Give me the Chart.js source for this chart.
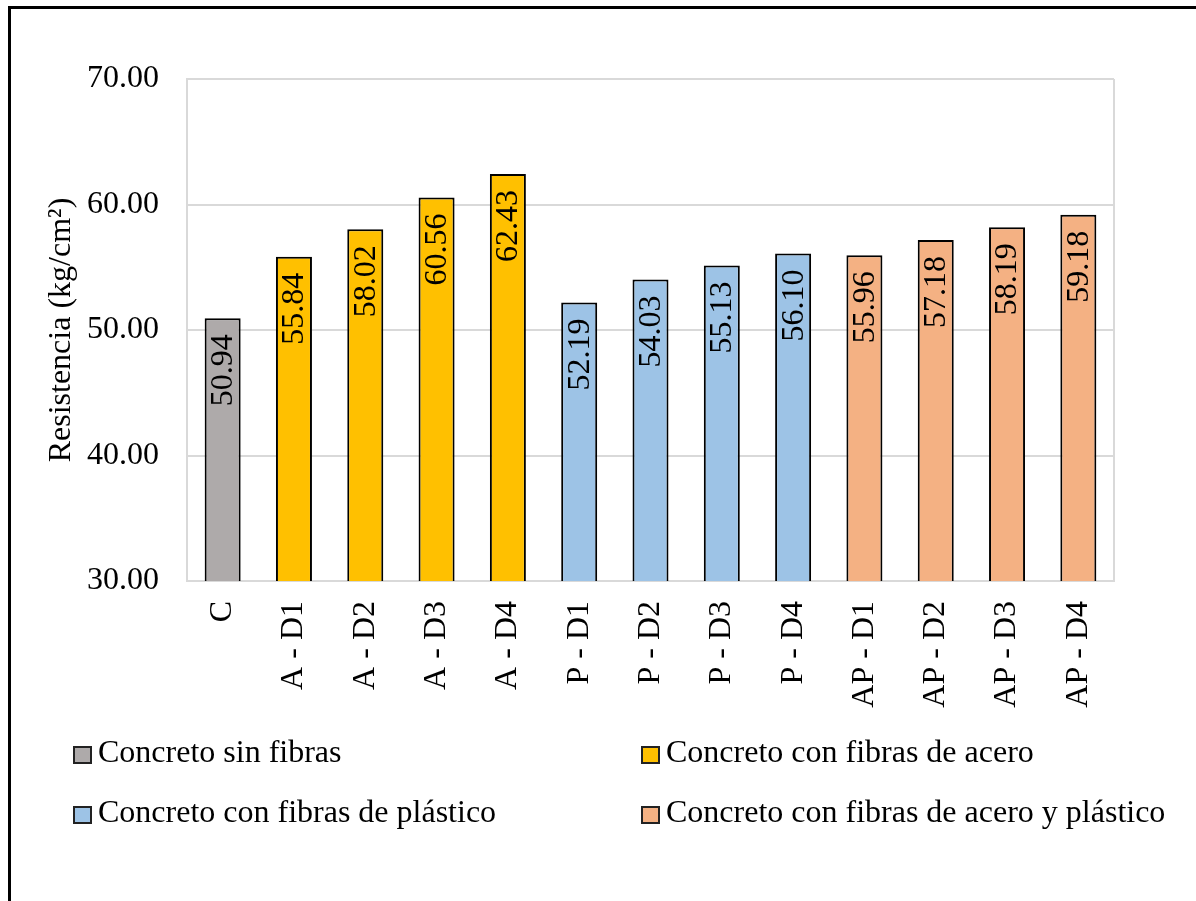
<!DOCTYPE html>
<html>
<head>
<meta charset="utf-8">
<script src="https://cdn.jsdelivr.net/npm/chart.js@4/dist/chart.umd.min.js"></script>
<style>
  html, body { margin: 0; padding: 0; background: #fff; overflow: hidden; }
  #wrap { position: relative; width: 1196px; height: 901px; }
  #frame { position: absolute; left: 8px; top: 6px; width: 3000px; height: 3000px;
           border-top: 3px solid #000; border-left: 3px solid #000; box-sizing: border-box; }
  canvas { position: absolute; left: 0; top: 0; }
</style>
</head>
<body>
<div id="wrap">
  <div id="frame"></div>
  <canvas id="c" width="1196" height="901"></canvas>
</div>
<script>
// ---- data ----
const categories = ['C', 'A - D1', 'A - D2', 'A - D3', 'A - D4', 'P - D1', 'P - D2', 'P - D3', 'P - D4', 'AP - D1', 'AP - D2', 'AP - D3', 'AP - D4'];
const values = [50.94, 55.84, 58.02, 60.56, 62.43, 52.19, 54.03, 55.13, 56.10, 55.96, 57.18, 58.19, 59.18];
const groupOfBar = [0, 1, 1, 1, 1, 2, 2, 2, 2, 3, 3, 3, 3];
const groupNames = ['Concreto sin fibras', 'Concreto con fibras de acero', 'Concreto con fibras de plástico', 'Concreto con fibras de acero y plástico'];
const groupColors = ['#AEAAAA', '#FFC000', '#9DC3E6', '#F4B183'];
const yTicks = [30, 40, 50, 60, 70];
const yTitle = 'Resistencia (kg/cm²)';

const FONT = "'Liberation Serif', 'Times New Roman', serif";

const dataLabels = {
  id: 'dataLabels',
  afterDatasetsDraw(chart) {
    const ctx = chart.ctx;
    const meta = chart.getDatasetMeta(0);
    ctx.save();
    ctx.fillStyle = '#000';
    ctx.font = '32px ' + FONT;
    ctx.textAlign = 'right';
    ctx.textBaseline = 'middle';
    meta.data.forEach((bar, i) => {
      ctx.save();
      ctx.translate(bar.x + 1, bar.y + 16);
      ctx.rotate(-Math.PI / 2);
      ctx.fillText(values[i].toFixed(2), 0, 0);
      ctx.restore();
    });
    ctx.restore();
  }
};

const plotBorder = {
  id: 'plotBorder',
  beforeDatasetsDraw(chart) {
    const { ctx, chartArea: a } = chart;
    ctx.save();
    ctx.strokeStyle = '#D9D9D9';
    ctx.lineWidth = 2;
    ctx.beginPath();
    ctx.moveTo(a.right, a.top);
    ctx.lineTo(a.right, a.bottom);
    ctx.stroke();
    ctx.restore();
  }
};

const customLegend = {
  id: 'customLegend',
  afterDraw(chart) {
    const ctx = chart.ctx;
    const colX = [74, 642];
    const rowY = [755, 815];
    ctx.save();
    ctx.font = '32px ' + FONT;
    ctx.textBaseline = 'middle';
    ctx.textAlign = 'left';
    groupNames.forEach((name, i) => {
      const x = colX[i % 2];
      const y = rowY[Math.floor(i / 2)];
      ctx.fillStyle = groupColors[i];
      ctx.fillRect(x, y - 8, 17, 16);
      ctx.strokeStyle = '#222';
      ctx.lineWidth = 2;
      ctx.strokeRect(x, y - 8, 17, 16);
      ctx.fillStyle = '#000';
      ctx.fillText(name, x + 24, y - 1);
    });
    ctx.restore();
  }
};

new Chart(document.getElementById('c'), {
  type: 'bar',
  data: {
    labels: categories,
    datasets: [{
      data: values,
      backgroundColor: groupOfBar.map(g => groupColors[g]),
      borderColor: '#000',
      borderWidth: 2,
      borderSkipped: false,
      categoryPercentage: 1.0,
      barPercentage: 0.505
    }]
  },
  options: {
    responsive: false,
    animation: false,
    devicePixelRatio: 1,
    layout: { padding: { left: 0, top: 79, right: 82, bottom: 190 } },
    plugins: { legend: { display: false }, tooltip: { enabled: false } },
    scales: {
      x: {
        grid: { display: false, drawTicks: false },
        border: { display: true, color: '#D9D9D9', width: 2 },
        ticks: { color: '#000', font: { family: FONT, size: 32 }, minRotation: 90, maxRotation: 90, padding: 20, autoSkip: false },
        afterFit(s) { s.height = 130; }
      },
      y: {
        min: 30, max: 70,
        afterBuildTicks(s) { s.ticks = yTicks.map(v => ({ value: v })); },
        grid: { color: '#D9D9D9', lineWidth: 2, drawTicks: false },
        border: { display: true, color: '#D9D9D9', width: 2 },
        ticks: { color: '#000', font: { family: FONT, size: 32 }, padding: 28, callback: v => Number(v).toFixed(2) },
        title: { display: true, text: yTitle, color: '#000', font: { family: FONT, size: 32 }, padding: { top: 42, bottom: 0 } },
        afterFit(s) { s.width = 187; }
      }
    }
  },
  plugins: [dataLabels, plotBorder, customLegend]
});
</script>
</body>
</html>
